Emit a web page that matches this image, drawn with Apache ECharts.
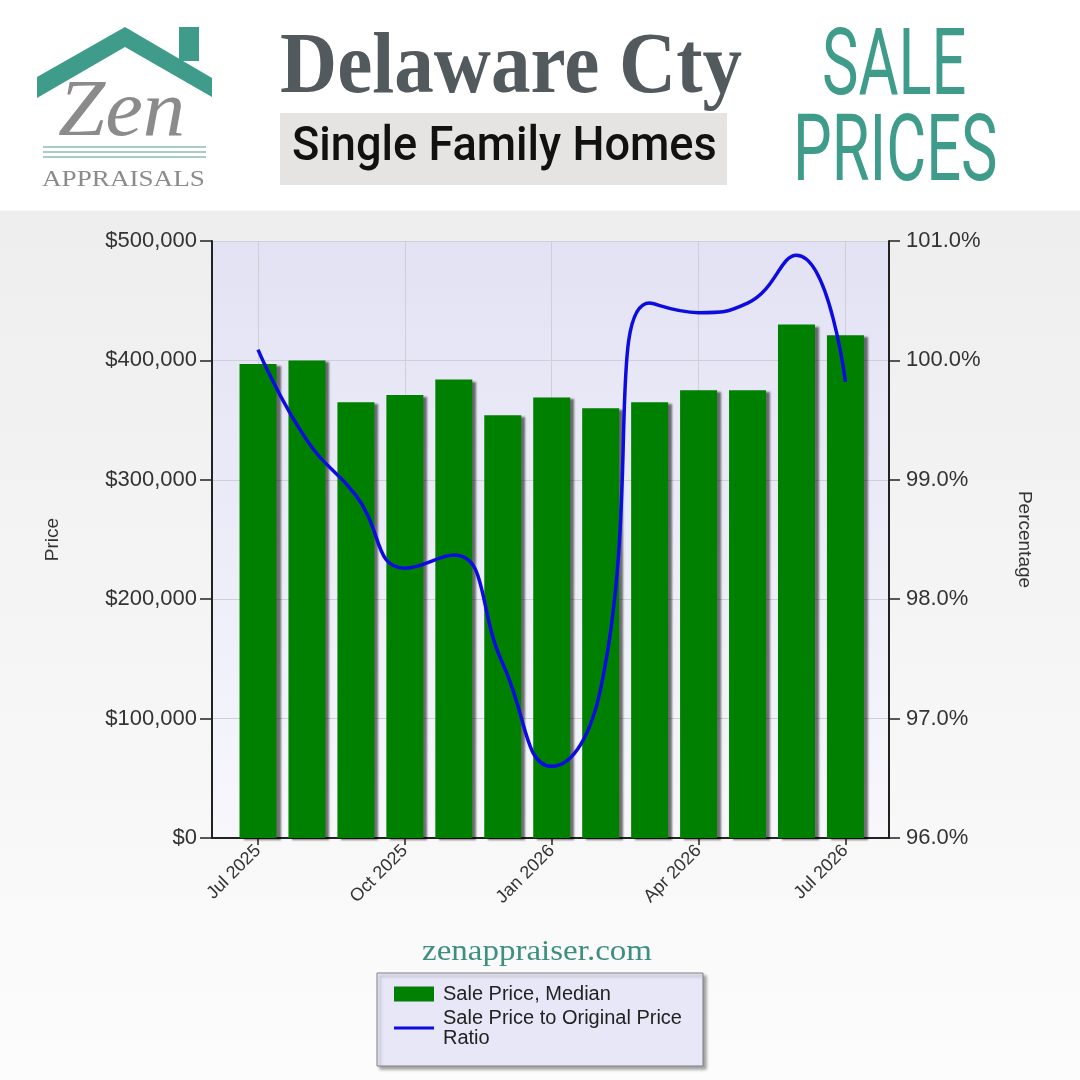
<!DOCTYPE html>
<html><head><meta charset="utf-8">
<script src="https://cdn.jsdelivr.net/npm/echarts@6/dist/echarts.min.js"></script>
<style>html,body{margin:0;padding:0;background:#fff}#c{width:1080px;height:1080px}</style>
</head><body><div id="c"></div>
<script>
// ---- data ----
const months = ['Jul 2025','Aug 2025','Sep 2025','Oct 2025','Nov 2025','Dec 2025','Jan 2026','Feb 2026','Mar 2026','Apr 2026','May 2026','Jun 2026','Jul 2026'];
const salePriceMedian = [397000, 400000, 365000, 371000, 384000, 354000, 369000, 360000, 365000, 375000, 375000, 430000, 421000];
const priceRatio = [100.09, 99.33, 98.87, 98.26, 98.37, 97.46, 96.60, 97.25, 100.48, 100.40, 100.48, 100.88, 99.82];
const labeledMonths = ['Jul 2025','Oct 2025','Jan 2026','Apr 2026','Jul 2026'];
const priceTicks = [0, 100000, 200000, 300000, 400000, 500000];
const pctTicks = [96, 97, 98, 99, 100, 101];
const seriesNames = ['Sale Price, Median', 'Sale Price to Original Price Ratio'];

// ---- build ----
const chart = echarts.init(document.getElementById('c'), null, {renderer: 'canvas'});
const labeledIdx = labeledMonths.map(m => months.indexOf(m));
const barData = salePriceMedian.map((v, i) => [i, v]);
const lineData = priceRatio.map((v, i) => [i, v]);
const SANS = '"Liberation Sans", Arial, sans-serif';
const SERIF = '"Liberation Serif", "Times New Roman", serif';
const TEAL = '#3f9c8b';
const LINE_ICON = 'path://M0,0L0.01,0L0.01,0.01ZM0,6H40V9H0ZM39.99,15L40,15L40,14.99Z';

const option = {
  animation: false,
  backgroundColor: {type: 'linear', x: 0, y: 0, x2: 0, y2: 1, colorStops: [
    {offset: 0, color: '#ffffff'}, {offset: 0.194, color: '#ffffff'},
    {offset: 0.196, color: '#eeeeee'}, {offset: 1, color: '#fcfcfc'}]},
  grid: {left: 212, right: 191, top: 241, bottom: 242, show: true, borderWidth: 0,
    backgroundColor: {type: 'linear', x: 0, y: 0, x2: 0, y2: 1, colorStops: [
      {offset: 0, color: '#e2e2f4'}, {offset: 1, color: '#f7f7fc'}]}},
  legend: {
    orient: 'vertical', left: 377, top: 973,
    padding: [11, 21, 18, 17], itemWidth: 40, itemHeight: 15, itemGap: 4,
    backgroundColor: '#e7e7f7', borderColor: '#808080', borderWidth: 1,
    shadowColor: 'rgba(0,0,0,0.35)', shadowBlur: 3, shadowOffsetX: 3, shadowOffsetY: 3,
    data: [{name: seriesNames[0], icon: 'rect'}, {name: seriesNames[1], icon: LINE_ICON}],
    formatter: n => n === seriesNames[1] ? 'Sale Price to Original Price\nRatio' : n,
    textStyle: {fontFamily: SANS, fontSize: 20, lineHeight: 20, color: '#222', padding: [0, 0, 0, 4]}
  },
  xAxis: {
    type: 'value', min: -0.94, max: 12.89,
    axisLine: {show: true, onZero: false, lineStyle: {color: '#222', width: 2}},
    axisTick: {show: true, customValues: labeledIdx, length: 7, lineStyle: {color: '#222', width: 1.5}},
    axisLabel: {customValues: labeledIdx, rotate: 45, margin: 10, fontFamily: SANS, fontSize: 18, color: '#333',
      formatter: v => months[Math.round(v)] || ''},
    splitLine: {show: true, lineStyle: {color: '#cfcfd8', width: 1}}
  },
  yAxis: [{
    type: 'value', min: priceTicks[0], max: priceTicks[priceTicks.length - 1], interval: priceTicks[1] - priceTicks[0],
    position: 'left', name: 'Price', nameLocation: 'middle', nameGap: 150,
    nameTextStyle: {fontFamily: SANS, fontSize: 19, color: '#333'},
    axisLine: {show: true, onZero: false, lineStyle: {color: '#222', width: 2}},
    axisTick: {show: true, length: 12, lineStyle: {color: '#222', width: 1.5}},
    axisLabel: {margin: 15, fontFamily: SANS, fontSize: 22, color: '#333',
      formatter: v => '$' + v.toLocaleString('en-US')},
    splitLine: {show: true, lineStyle: {color: '#cfcfd8', width: 1}}
  }, {
    type: 'value', min: pctTicks[0], max: pctTicks[pctTicks.length - 1], interval: pctTicks[1] - pctTicks[0],
    position: 'right', name: 'Percentage', nameLocation: 'middle', nameGap: 126, nameRotate: -90,
    nameTextStyle: {fontFamily: SANS, fontSize: 19, color: '#333'},
    axisLine: {show: true, onZero: false, lineStyle: {color: '#222', width: 2}},
    axisTick: {show: true, length: 11, lineStyle: {color: '#222', width: 1.5}},
    axisLabel: {margin: 17, fontFamily: SANS, fontSize: 22, color: '#333',
      formatter: v => v.toFixed(1) + '%'},
    splitLine: {show: false}
  }],
  series: [{
    name: seriesNames[0], type: 'bar', data: barData, barWidth: 37, z: 2,
    itemStyle: {color: '#008000', shadowColor: 'rgba(0,0,0,0.55)', shadowBlur: 2, shadowOffsetX: 4, shadowOffsetY: 2}
  }, {
    name: seriesNames[1], type: 'line', yAxisIndex: 1, data: lineData, smooth: 0.5, symbol: 'none', z: 3,
    lineStyle: {color: '#0c0ce0', width: 3.5}, itemStyle: {color: '#0c0ce0'}
  }],
  graphic: [
    {type: 'polygon', shape: {points: [[37, 77], [125, 27], [212, 78], [212, 97], [125, 47], [37, 98]]}, style: {fill: TEAL}},
    {type: 'rect', shape: {x: 179, y: 27, width: 20, height: 34}, style: {fill: TEAL}},
    {type: 'text', x: 58, y: 114, scaleX: 1.06, style: {text: 'Zen', fontFamily: SERIF, fontStyle: 'italic', fontSize: 80, fill: '#8b8b8b', verticalAlign: 'middle'}},
    {type: 'line', shape: {x1: 43, y1: 147, x2: 206, y2: 147}, style: {stroke: '#8dbcb3', lineWidth: 1.5}},
    {type: 'line', shape: {x1: 43, y1: 152, x2: 206, y2: 152}, style: {stroke: '#8dbcb3', lineWidth: 1.5}},
    {type: 'line', shape: {x1: 43, y1: 157, x2: 206, y2: 157}, style: {stroke: '#8dbcb3', lineWidth: 1.5}},
    {type: 'text', x: 42, y: 180, scaleX: 1.18, style: {text: 'APPRAISALS', fontFamily: SERIF, fontSize: 23, fill: '#8b8b8b', verticalAlign: 'middle'}},
    {type: 'text', x: 280, y: 70, scaleX: 0.92, style: {text: 'Delaware Cty', fontFamily: SERIF, fontWeight: 'bold', fontSize: 86, fill: '#535a5e', verticalAlign: 'middle'}},
    {type: 'rect', shape: {x: 280, y: 113, width: 447, height: 72}, style: {fill: '#e6e4e2'}},
    {type: 'text', x: 292, y: 148, scaleX: 0.94, style: {text: 'Single Family Homes', fontFamily: 'Roboto', fontWeight: 500, fontSize: 48, fill: '#111', verticalAlign: 'middle'}},
    {type: 'text', x: 822, y: 71, scaleX: 0.66, style: {text: 'SALE', fontFamily: 'Roboto', fontSize: 93, fill: TEAL, verticalAlign: 'middle'}},
    {type: 'text', x: 793, y: 157, scaleX: 0.66, style: {text: 'PRICES', fontFamily: 'Roboto', fontSize: 93, fill: TEAL, verticalAlign: 'middle'}},
    {type: 'text', x: 422, y: 952, scaleX: 1.1, style: {text: 'zenappraiser.com', fontFamily: SERIF, fontSize: 30, fill: '#3d8f80', verticalAlign: 'middle'}}
  ]
};
chart.setOption(option);
</script>
</body></html>
